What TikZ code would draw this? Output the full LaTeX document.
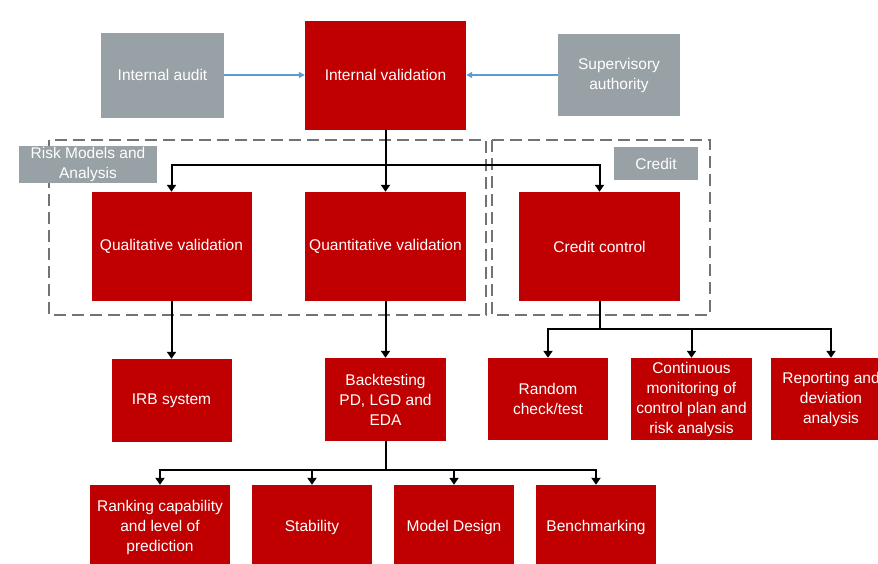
\documentclass[tikz,border=0pt]{standalone}
\usepackage{fontspec}
\setmainfont{Liberation Sans}
\usetikzlibrary{arrows.meta, positioning}
\usepackage{xcolor}
\definecolor{boxred}{RGB}{192,0,0}
\definecolor{boxgray}{RGB}{152,161,166}
\definecolor{arrowblue}{RGB}{91,155,213}
\definecolor{dashgray}{RGB}{115,115,115}
\tikzset{redbox/.style={rectangle, fill=boxred, text=white, align=center, inner sep=0pt, font=\fontsize{15.5}{20}\selectfont},graybox/.style={rectangle, fill=boxgray, text=white, align=center, inner sep=0pt, font=\fontsize{15.5}{20}\selectfont}}

\begin{document}
\begin{tikzpicture}[
        x=1pt, y=-1pt,
        conn/.style={draw=black, line width=2pt, -{Triangle[length=7pt, width=9pt]}},
        feed/.style={draw=arrowblue, line width=1.3pt, -{Triangle[length=6pt, width=6pt]}},
        groupframe/.style={draw=dashgray, line width=2pt, dash pattern=on 12pt off 6pt},
    ]
        \useasboundingbox (0,0) rectangle (878,563);
        \clip (0,0) rectangle (878,563);
        % Group frames
        \draw[groupframe] (49,140) rectangle (486,315);
        \draw[groupframe] (492,140) rectangle (710,315);
        \node[graybox, minimum width=138pt, minimum height=37pt] (riskmodels) at (88,164.5) {Risk Models and\\Analysis};
        \node[graybox, minimum width=84pt, minimum height=33pt] (credit) at (656,163.5) {Credit};
        % Top row
        \node[redbox, minimum width=161pt, minimum height=109pt] (validation) at (385.5,75) {Internal validation};
        \node[graybox, minimum width=123pt, minimum height=85pt] (audit) at (162.5,75) {Internal audit};
        \node[graybox, minimum width=122pt, minimum height=82pt] (supervisory) at (619,75) {Supervisory\\authority};
        % Second row
        \node[redbox, minimum width=160pt, minimum height=109pt] (qualitative) at (171.5,246.5) {Qualitative validation};
        \node[redbox, minimum width=161pt, minimum height=109pt] (quantitative) at (385.5,246.5) {Quantitative validation};
        \node[redbox, minimum width=161pt, minimum height=109pt] (creditcontrol) at (599.5,246.5) {Credit control};
        % Third row
        \node[redbox, minimum width=120pt, minimum height=83pt] (irb) at (171.5,400.5) {IRB system};
        \node[redbox, minimum width=121pt, minimum height=83pt] (backtesting) at (385.5,399.5) {Backtesting\\PD, LGD and\\EDA};
        \node[redbox, minimum width=120pt, minimum height=82pt] (randomcheck) at (548,399) {Random\\check/test};
        \node[redbox, minimum width=121pt, minimum height=82pt] (monitoring) at (691.5,399) {Continuous\\monitoring of\\control plan and\\risk analysis};
        \node[redbox, minimum width=120pt, minimum height=82pt] (reporting) at (831,399) {Reporting and\\deviation\\analysis};
        % Bottom row
        \node[redbox, minimum width=140pt, minimum height=84pt] (ranking) at (160,527) {Ranking capability\\and level of\\prediction};
        \node[redbox, minimum width=120pt, minimum height=84pt] (stability) at (312,527) {Stability};
        \node[redbox, minimum width=120pt, minimum height=84pt] (modeldesign) at (454,527) {Model Design};
        \node[redbox, minimum width=120pt, minimum height=84pt] (benchmarking) at (596,527) {Benchmarking};
        % Branch points
        \coordinate (validationsplit) at (385.5,165);
        \coordinate (creditsplit) at (599.5,329);
        \coordinate (backsplit) at (385.5,470);
        % Connectors
        \draw[feed] (audit) -- (validation);
        \draw[feed] (supervisory) -- (validation);
        \draw[conn] (validation) -- (quantitative);
        \foreach \n in {qualitative, creditcontrol} {
            \draw[conn] (validation.south) -- (validationsplit) -| (\n.north);
        }
        \draw[conn] (qualitative) -- (irb);
        \draw[conn] (quantitative) -- (backtesting);
        \foreach \n in {randomcheck, monitoring, reporting} {
            \draw[conn] (creditcontrol.south) -- (creditsplit) -| (\n.north);
        }
        \foreach \n in {ranking, stability, modeldesign, benchmarking} {
            \draw[conn] (backtesting.south) -- (backsplit) -| (\n.north);
        }
    \end{tikzpicture}
\end{document}
